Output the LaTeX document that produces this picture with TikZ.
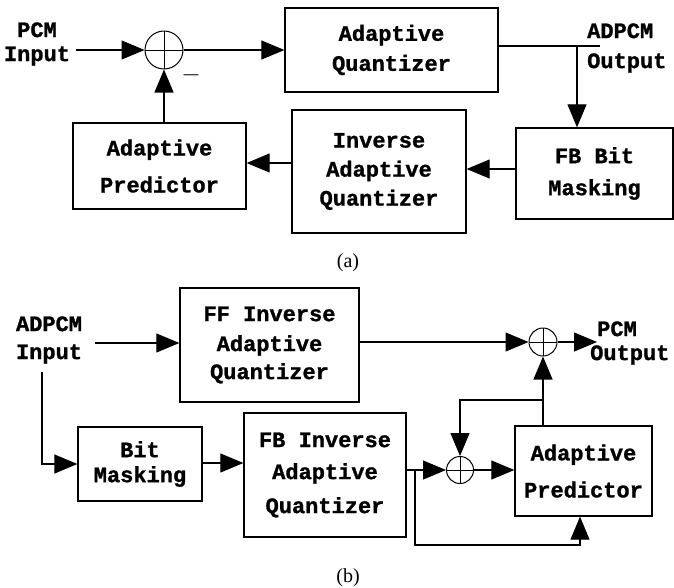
\documentclass[tikz,border=0pt]{standalone}
\usepackage{fontspec}
\setmainfont{Liberation Serif}
\setmonofont[BoldFeatures={FakeBold=1.2}]{Liberation Mono}
\usepackage{tikz}
\usetikzlibrary{arrows.meta}
\newcommand{\blkfont}{\fontsize{22}{24}\selectfont\ttfamily\bfseries}
\tikzset{
  blk/.style={draw, line width=1.3pt, align=center, inner sep=0pt, font=\blkfont},
  lbl/.style={inner sep=0pt, font=\blkfont},
  adder/.style={draw, circle, inner sep=0pt, line width=1pt,
    path picture={\draw[line width=1pt] (path picture bounding box.north) -- (path picture bounding box.south)
      (path picture bounding box.west) -- (path picture bounding box.east);}},
  arr/.style={line width=1.1pt, -{Triangle[length=23pt,width=19pt]}},
  ln/.style={line width=1.1pt}
}
\begin{document}
\begin{tikzpicture}[x=1pt,y=-1pt]
\useasboundingbox (0,0) rectangle (674,587);
%(a) blocks
\node[blk, minimum width=213, minimum height=84] (aq) at (391.5,50) {Adaptive\\[6pt]Quantizer};
\node[blk, minimum width=173, minimum height=86] (ap) at (159.5,166) {Adaptive\\[13pt]Predictor};
\node[blk, minimum width=174, minimum height=123] (iaq) at (379,171.5) {Inverse\\[5pt]Adaptive\\[5pt]Quantizer};
\node[blk, minimum width=157, minimum height=91] (fb) at (594.5,173.5) {FB Bit\\[8pt]Masking};
\node[adder, minimum size=38] (sum1) at (164,50) {};
%(a) labels
\node[lbl, align=center] (pcmin) at (37,44) {PCM\\Input};
\node[lbl, align=left, anchor=west] (adout) at (587,48) {ADPCM\\[6pt]Output};
\node (minus) at (191,75) {\fontsize{24}{24}\selectfont$-$};
\coordinate (ain1) at (76,50);
\coordinate (aout) at (600,46);
\coordinate (br1) at (577,46);
%(a) edges
\draw[arr] (ain1) -- (sum1.west);
\draw[arr] (sum1.east) -- (aq.west);
\draw[ln] (aq.east |- aout) -- (aout);
\draw[arr] (br1) -- (fb.north -| br1);
\draw[arr] (fb.west |- 0,169) -- (iaq.east |- 0,169);
\draw[arr] (iaq.west |- 0,163) -- (ap.east |- 0,163);
\draw[arr] (ap.north -| sum1) -- (sum1.south);
\node[font=\fontsize{20}{22}\selectfont] (capa) at (348,263) {(a)};
%(b) blocks
\node[blk, minimum width=179, minimum height=114] (ffq) at (269.5,345) {FF Inverse\\[6pt]Adaptive\\[4pt]Quantizer};
\node[blk, minimum width=124, minimum height=74] (bm) at (140,464) {Bit\\[1pt]Masking};
\node[blk, minimum width=162, minimum height=124] (fbq) at (325,475) {FB Inverse\\[8pt]Adaptive\\[10pt]Quantizer};
\node[blk, minimum width=137, minimum height=90] (ap2) at (583.5,471) {Adaptive\\[13pt]Predictor};
\node[adder, minimum size=27] (sum2) at (460,470) {};
\node[adder, minimum size=28] (sum3) at (543,342) {};
%(b) labels
\node[lbl, align=center] (adin) at (49,340) {ADPCM\\[4pt]Input};
\node[lbl, align=left, anchor=west] (pcmout) at (590,343) {\hspace*{7pt}PCM\\Output};
\coordinate (ain2) at (95,343);
\coordinate (adown) at (42,372);
\coordinate (br2) at (415,470);
\coordinate (bot) at (580,545);
\coordinate (br3) at (543,400);
\coordinate (pout) at (597,342);
%(b) edges
\draw[arr] (ain2) -- (ain2 -| ffq.west);
\draw[arr] (adown) |- (bm.west);
\draw[arr] (bm.east |- 0,463) -- (fbq.west |- 0,463);
\draw[arr] (fbq.east |- sum2) -- (sum2.west);
\draw[arr] (br2) |- (bot) -- (bot |- ap2.south);
\draw[arr] (sum2.east) -- (ap2.west |- sum2);
\draw[arr] (ap2.north -| sum3) -- (sum3.south);
\draw[arr] (br3) -| (sum2.north);
\draw[arr] (ffq.east |- sum3) -- (sum3.west);
\draw[arr] (sum3.east) -- (pout);
\node[font=\fontsize{20}{22}\selectfont] (capb) at (348,578) {(b)};
\end{tikzpicture}
\end{document}
